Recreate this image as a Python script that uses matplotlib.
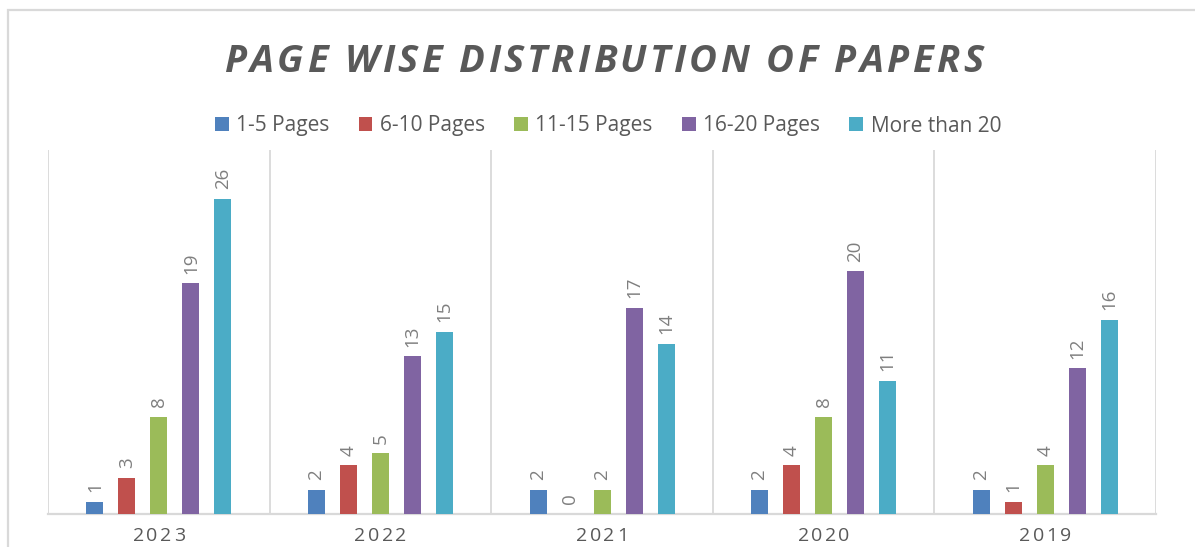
import matplotlib
matplotlib.use("Agg")
import matplotlib.pyplot as plt
import numpy as np
from matplotlib.patches import Patch, Rectangle

# data
years = ["2023", "2022", "2021", "2020", "2019"]
series_names = ["1-5 Pages", "6-10 Pages", "11-15 Pages", "16-20 Pages", "More than 20"]
p1_5 = [1, 2, 2, 2, 2]
p6_10 = [3, 4, 0, 4, 1]
p11_15 = [8, 5, 2, 8, 4]
p16_20 = [19, 13, 17, 20, 12]
p_more20 = [26, 15, 14, 11, 16]
colors = ["#4F81BD", "#C0504D", "#9BBB59", "#8064A2", "#4BACC6"]

plt.rcParams['font.family'] = ['Open Sans', 'DejaVu Sans']
txt = "#595959"
W, H = 1195, 547

fig = plt.figure(figsize=(W / 100, H / 100), dpi=100)
renderer = fig.canvas.get_renderer()


def spaced_text(s, cx, base_y, target_w, **kw):
    """draw s one glyph at a time so it fills target_w pixels (letter spacing)"""
    widths = []
    for ch in s:
        if ch == " ":
            widths.append(None)
            continue
        t = fig.text(0, 0, ch, **kw)
        widths.append(t.get_window_extent(renderer).width)
        t.remove()
    fs = kw.get("fontsize", 12) * 100 / 72
    widths = [w if w is not None else 0.26 * fs for w in widths]
    gap = (target_w - sum(widths)) / max(len(s) - 1, 1)
    xp = cx - target_w / 2
    for ch, w in zip(s, widths):
        if ch != " ":
            fig.text(xp / W, base_y / H, ch, ha="left", va="baseline", **kw)
        xp += w + gap


ax = fig.add_axes([48 / W, 33 / H, 1108 / W, 364 / H])

# chart border (only the top and left show inside the crop)
fig.patches.append(Rectangle((8 / W, -0.1), 1.2, (537 / H) + 0.1,
                             transform=fig.transFigure, fill=False,
                             edgecolor="#d9d9d9", lw=1.6))

x = np.arange(len(years))
step = 32 / 221.6
width = 17 / 221.6
all_series = [p1_5, p6_10, p11_15, p16_20, p_more20]
for i, (vals, c) in enumerate(zip(all_series, colors)):
    pos = x + (i - 2) * step
    ax.bar(pos, vals, width=width, color=c, zorder=3)
    for xp, v in zip(pos, vals):
        ax.annotate(str(v), (xp, v), xytext=(0, 7), textcoords="offset points",
                    rotation=90, ha="center", va="bottom", fontsize=13.5,
                    color="#7f7f7f")

ax.set_xlim(-0.5, len(years) - 0.5)
ax.set_ylim(0, 30)
for b in np.arange(-0.5, len(years), 1.0):
    ax.axvline(b, color="#d9d9d9", lw=1.3, zorder=1)

for s in ["top", "left", "right"]:
    ax.spines[s].set_visible(False)
ax.spines["bottom"].set_color("#d9d9d9")
ax.spines["bottom"].set_linewidth(1.6)
ax.set_yticks([])
ax.set_xticks(x)
ax.set_xticklabels([])
ax.tick_params(axis="x", length=0)

# letter-spaced category labels under the axis (kept just inside the bottom edge)
for xi, yr in zip(x, years):
    px = ax.transData.transform((xi, 0))[0]
    spaced_text(yr, px, 6, 52, fontsize=14, color=txt)

spaced_text("PAGE WISE DISTRIBUTION OF PAPERS", 603.5, H - 72, 759,
            fontsize=27.5, fontweight="bold", fontstyle="italic", color=txt)

handles = [Patch(facecolor=c, edgecolor="none") for c in colors]
fig.legend(handles, series_names, loc="center", bbox_to_anchor=(608 / W, 1 - 126 / H),
           ncol=5, frameon=False, fontsize=15, labelcolor=txt, handlelength=0.66,
           handleheight=0.66, handletextpad=0.36, columnspacing=1.4)

fig.savefig("out.png", dpi=100)
